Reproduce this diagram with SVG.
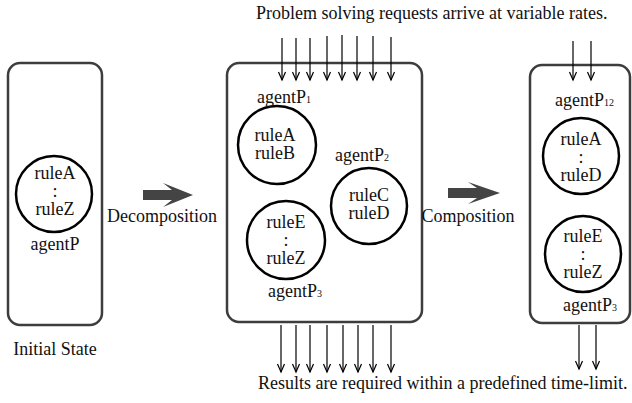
<svg xmlns="http://www.w3.org/2000/svg" width="632" height="403" viewBox="0 0 632 403">
<defs>
<style>
text{font-family:"Liberation Serif","Times New Roman",serif;font-size:18px;fill:#111}
.c{text-anchor:middle}
.box{fill:none;stroke:#3d3d3d;stroke-width:2.5}
.agent{fill:#fff;stroke:#000;stroke-width:2.5}
.flow{stroke:#000;stroke-width:1.2;fill:none;marker-end:url(#v)}
.big{fill:#444}
.sub{font-size:10px}
</style>
<marker id="v" viewBox="-10 -5 12 10" refX="0" refY="0" markerWidth="12" markerHeight="10" markerUnits="userSpaceOnUse" orient="auto">
<path d="M-8,-3.5 L0,0 L-8,3.5" fill="none" stroke="#000" stroke-width="1.2"/>
</marker>
</defs>
<rect width="632" height="403" fill="#fff"/>

<text x="256" y="19">Problem solving requests arrive at variable rates.</text>
<text x="258" y="389">Results are required within a predefined time-limit.</text>

<g id="initial-state">
<rect class="box" x="8" y="63" width="94" height="262" rx="12"/>
<text class="c" x="55" y="355">Initial State</text>
</g>
<g id="agentP">
<circle class="agent" cx="54" cy="194" r="38"/>
<text class="c" x="55" y="179">ruleA</text>
<text class="c" x="55" y="197">:</text>
<text class="c" x="55" y="215">ruleZ</text>
<text class="c" x="55" y="250">agentP</text>
</g>

<g id="decomposition">
<path class="big" d="M143,190 L172,190 L163,183 L193,195 L163,207 L172,200 L143,200 Z"/>
<text class="c" x="162" y="222">Decomposition</text>
</g>

<g id="decomposed-state">
<rect class="box" x="227" y="63" width="195" height="259" rx="12"/>
</g>
<g id="agentP1">
<circle class="agent" cx="277" cy="145" r="39"/>
<text class="c" x="275" y="141">ruleA</text>
<text class="c" x="275" y="159">ruleB</text>
<text x="257" y="103">agentP<tspan class="sub">1</tspan></text>
</g>
<g id="agentP2">
<circle class="agent" cx="369" cy="206" r="38"/>
<text class="c" x="369" y="201">ruleC</text>
<text class="c" x="369" y="219">ruleD</text>
<text x="335" y="161">agentP<tspan class="sub">2</tspan></text>
</g>
<g id="agentP3">
<circle class="agent" cx="286" cy="240" r="39"/>
<text class="c" x="286" y="228">ruleE</text>
<text class="c" x="286" y="246">:</text>
<text class="c" x="286" y="264">ruleZ</text>
<text x="268" y="297">agentP<tspan class="sub">3</tspan></text>
</g>

<g id="composition">
<path class="big" d="M448,188 L477,188 L468,182 L500,193 L468,204 L477,198 L448,198 Z"/>
<text class="c" x="468" y="222">Composition</text>
</g>

<g id="composed-state">
<rect class="box" x="530" y="65" width="100" height="258" rx="12"/>
</g>
<g id="agentP12">
<circle class="agent" cx="581" cy="156" r="38"/>
<text class="c" x="581" y="145">ruleA</text>
<text class="c" x="581" y="163">:</text>
<text class="c" x="581" y="181">ruleD</text>
<text x="555" y="106">agentP<tspan class="sub">12</tspan></text>
</g>
<g id="agentP3-composed">
<circle class="agent" cx="583" cy="254" r="38"/>
<text class="c" x="583" y="242">ruleE</text>
<text class="c" x="583" y="260">:</text>
<text class="c" x="583" y="278">ruleZ</text>
<text x="563" y="311">agentP<tspan class="sub">3</tspan></text>
</g>

<g id="connectors">
<line class="flow" x1="282" y1="38" x2="282" y2="80"/>
<line class="flow" x1="296" y1="38" x2="296" y2="80"/>
<line class="flow" x1="310" y1="38" x2="310" y2="80"/>
<line class="flow" x1="327" y1="36" x2="327" y2="80"/>
<line class="flow" x1="342" y1="35" x2="342" y2="80"/>
<line class="flow" x1="357" y1="36" x2="357" y2="80"/>
<line class="flow" x1="373" y1="36" x2="373" y2="80"/>
<line class="flow" x1="391" y1="37" x2="391" y2="80"/>
<line class="flow" x1="281" y1="325" x2="281" y2="372"/>
<line class="flow" x1="296" y1="325" x2="296" y2="372"/>
<line class="flow" x1="310" y1="325" x2="310" y2="372"/>
<line class="flow" x1="327" y1="325" x2="327" y2="372"/>
<line class="flow" x1="343" y1="325" x2="343" y2="372"/>
<line class="flow" x1="358" y1="325" x2="358" y2="372"/>
<line class="flow" x1="373" y1="325" x2="373" y2="372"/>
<line class="flow" x1="391" y1="325" x2="391" y2="372"/>
<line class="flow" x1="573" y1="41" x2="573" y2="80"/>
<line class="flow" x1="591" y1="41" x2="591" y2="80"/>
<line class="flow" x1="579" y1="325" x2="579" y2="369"/>
<line class="flow" x1="596" y1="325" x2="596" y2="369"/>
</g>
</svg>
